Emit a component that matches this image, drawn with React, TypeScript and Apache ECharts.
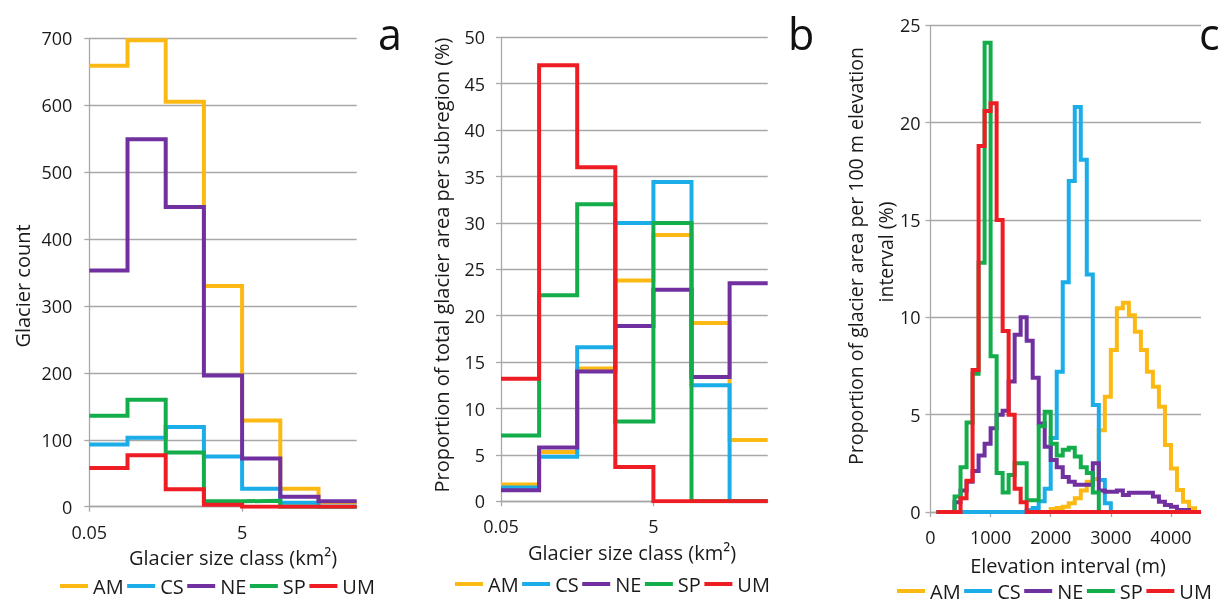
import React, { useEffect, useRef } from 'react';
import * as echarts from 'echarts';

// ---------- shared ----------
const regions = ['AM', 'CS', 'NE', 'SP', 'UM'];
const regionColors = ['#FDB913', '#1BADE8', '#7030A0', '#13AE4B', '#EE1D23'];

// ---------- panels a & b : glacier size classes (log-spaced class boundaries, by index) ----------
const sizeClassEdges = [0, 1, 2, 3, 4, 5, 6, 7];
const sizeTickPositions = [0, 4];
const sizeTickLabels = ['0.05', '5'];

// a: glacier count per size class
const countAM = [659, 697, 605, 330, 129, 27, 7];
const countCS = [93, 103, 119, 75, 27, 6, 0];
const countNE = [353, 549, 448, 196, 72, 15, 8];
const countSP = [136, 160, 81, 8, 9, 0, 0];
const countUM = [58, 77, 26, 3, 0, 0, 0];

// b: proportion of total glacier area per subregion (%)
const areaAM = [1.8, 5.3, 14.3, 23.8, 28.7, 19.2, 6.6];
const areaCS = [1.5, 4.8, 16.6, 30.0, 34.4, 12.5, 0];
const areaNE = [1.2, 5.8, 14.0, 18.9, 22.8, 13.4, 23.5];
const areaSP = [7.1, 22.2, 32.0, 8.6, 30.0, 0, 0];
const areaUM = [13.2, 47.0, 36.0, 3.7, 0, 0, 0];

// ---------- panel c : 100 m elevation intervals (bin start, m) ----------
const elevBinStart = [
  100, 200, 300, 400, 500, 600, 700, 800, 900, 1000,
  1100, 1200, 1300, 1400, 1500, 1600, 1700, 1800, 1900, 2000,
  2100, 2200, 2300, 2400, 2500, 2600, 2700, 2800, 2900, 3000,
  3100, 3200, 3300, 3400, 3500, 3600, 3700, 3800, 3900, 4000,
  4100, 4200, 4300, 4400,
];
const elevEnd = 4500;

const elevAM = [
  0, 0, 0, 0, 0, 0, 0, 0, 0, 0,
  0, 0, 0, 0, 0, 0, 0, 0, 0, 0.15,
  0.2, 0.27, 0.45, 0.7, 1.1, 1.55, 1.7, 4.2, 5.92, 8.32,
  10.46, 10.75, 10.1, 9.26, 8.32, 7.2, 6.44, 5.41, 3.44, 2.24,
  1.13, 0.53, 0.19, 0,
];
const elevCS = [
  0, 0, 0, 0, 0, 0, 0, 0, 0, 0,
  0, 0, 0, 0, 0, 0.1, 0.2, 0.55, 1.2, 3.8,
  7.2, 11.8, 17.0, 20.8, 18.1, 12.2, 5.5, 1.64, 0.45, 0,
  0, 0, 0, 0, 0, 0, 0, 0, 0, 0,
  0, 0, 0, 0,
];
const elevNE = [
  0, 0, 0, 0.5, 1.1, 1.55, 2.1, 2.9, 3.5, 4.3,
  5.0, 5.2, 6.7, 9.1, 10.0, 8.8, 6.9, 4.55, 3.35, 2.67,
  2.3, 1.8, 1.55, 1.4, 1.4, 1.4, 2.5, 1.1, 1.04, 1.04,
  1.1, 0.87, 0.99, 0.99, 0.99, 0.99, 0.79, 0.53, 0.36, 0.27,
  0.1, 0.1, 0, 0,
];
const elevSP = [
  0, 0, 0, 0.8, 2.3, 4.6, 7.1, 12.8, 24.1, 8.0,
  2.0, 1.0, 1.9, 2.5, 2.5, 0.6, 0.6, 4.4, 5.15, 3.5,
  2.9, 3.2, 3.3, 2.85, 2.3, 2.0, 1.0, 0, 0, 0,
  0, 0, 0, 0, 0, 0, 0, 0, 0, 0,
  0, 0, 0, 0,
];
const elevUM = [
  0, 0, 0, 0, 0.7, 1.6, 7.3, 18.8, 20.6, 21.0,
  15.0, 9.3, 5.0, 1.2, 0.5, 0, 0, 0, 0, 0,
  0, 0, 0, 0, 0, 0, 0, 0, 0, 0,
  0, 0, 0, 0, 0, 0, 0, 0, 0, 0,
  0, 0, 0, 0,
];

const countSeries = [countAM, countCS, countNE, countSP, countUM];
const areaSeries = [areaAM, areaCS, areaNE, areaSP, areaUM];
const elevSeries = [elevAM, elevCS, elevNE, elevSP, elevUM];

const FONT = '"Open Sans", Lato, sans-serif';
const GRID_COLOR = '#A8A8A8';
const TEXT_COLOR = '#1a1a1a';

function stepData(edges: number[], values: number[]) {
  const pts: number[][] = values.map((v, i) => [edges[i], v]);
  pts.push([edges[values.length], values[values.length - 1]]);
  return pts;
}

function sizeLabel(v: number) {
  const i = sizeTickPositions.indexOf(v);
  return i >= 0 ? sizeTickLabels[i] : '';
}

function yAxisCfg(gridIndex: number, max: number, interval: number, margin: number) {
  return {
    gridIndex,
    type: 'value',
    min: 0,
    max,
    interval,
    axisLine: { show: true, lineStyle: { color: GRID_COLOR, width: 1.3 } },
    axisTick: { show: true, length: 5, lineStyle: { color: GRID_COLOR, width: 1.3 } },
    axisLabel: { fontSize: 18, fontFamily: FONT, color: TEXT_COLOR, margin },
    splitLine: { show: true, lineStyle: { color: GRID_COLOR, width: 1.3 } },
  };
}

function xAxisCfg(gridIndex: number, min: number, max: number, interval: number, formatter: any) {
  return {
    gridIndex,
    type: 'value',
    min,
    max,
    interval,
    axisLine: { show: true, onZero: false, lineStyle: { color: GRID_COLOR, width: 1.3 } },
    axisTick: { show: true, length: 5, lineStyle: { color: GRID_COLOR, width: 1.3 } },
    axisLabel: { fontSize: 18, fontFamily: FONT, color: TEXT_COLOR, margin: 16, formatter, showMaxLabel: false },
    splitLine: { show: false },
  };
}

function legendCfg(left: number, top: number) {
  return {
    data: regions,
    left,
    top,
    orient: 'horizontal',
    icon: 'rect',
    itemWidth: 28,
    itemHeight: 4,
    itemGap: 3.5,
    padding: 0,
    selectedMode: false,
    textStyle: { fontSize: 20, fontFamily: FONT, color: TEXT_COLOR },
  };
}

function hText(text: string, x: number, y: number, size = 20) {
  return {
    type: 'text',
    x,
    y,
    style: { text, fill: TEXT_COLOR, font: `${size}px ${FONT}`, textAlign: 'center', textVerticalAlign: 'middle', align: 'center', verticalAlign: 'middle' },
  };
}

function vText(text: string, x: number, y: number, size = 20) {
  return {
    type: 'text',
    x,
    y,
    rotation: Math.PI / 2,
    style: { text, fill: TEXT_COLOR, font: `${size}px ${FONT}`, textAlign: 'center', textVerticalAlign: 'middle', align: 'center', verticalAlign: 'middle' },
  };
}

function letter(text: string, x: number, y: number) {
  return {
    type: 'text',
    x,
    y,
    style: { text, fill: '#111', font: `43px ${FONT}`, textAlign: 'left', textVerticalAlign: 'middle', align: 'left', verticalAlign: 'middle' },
  };
}

export default function App() {
  const ref = useRef<HTMLDivElement>(null);

  useEffect(() => {
    if (!ref.current) return;
    const chart = echarts.init(ref.current, undefined, { renderer: 'svg' });

    const series: any[] = [];
    const panels = [
      { data: countSeries, edges: sizeClassEdges, idx: 0 },
      { data: areaSeries, edges: sizeClassEdges, idx: 1 },
      { data: elevSeries, edges: [...elevBinStart, elevEnd], idx: 2 },
    ];
    panels.forEach((p) => {
      p.data.forEach((vals, k) => {
        series.push({
          name: regions[k],
          type: 'line',
          step: 'end',
          xAxisIndex: p.idx,
          yAxisIndex: p.idx,
          data: stepData(p.edges, vals),
          showSymbol: false,
          symbol: 'none',
          lineStyle: { width: 4, color: regionColors[k], join: 'miter', cap: 'butt' },
          itemStyle: { color: regionColors[k] },
          emphasis: { disabled: true },
          silent: true,
        });
      });
    });

    chart.setOption({
      animation: false,
      textStyle: { fontFamily: FONT },
      grid: [
        { left: 89.3, top: 38.3, width: 267.4, height: 468.4 },
        { left: 501, top: 37.3, width: 266.7, height: 464 },
        { left: 930.5, top: 25.3, width: 270.5, height: 486.7 },
      ],
      xAxis: [
        xAxisCfg(0, 0, 7, 4, sizeLabel),
        xAxisCfg(1, 0, 7, 4, sizeLabel),
        xAxisCfg(2, 0, 4500, 1000, (v: number) => String(v)),
      ],
      yAxis: [
        yAxisCfg(0, 700, 100, 17),
        yAxisCfg(1, 50, 5, 16),
        yAxisCfg(2, 25, 5, 10),
      ],
      legend: [legendCfg(60, 576), legendCfg(455, 574), legendCfg(897, 581)],
      graphic: [
        vText('Glacier count', 22, 286),
        hText('Glacier size class (km²)', 233, 557),
        vText('Proportion of total glacier area per subregion (%)', 441, 265),
        hText('Glacier size class (km²)', 632, 552),
        vText('Proportion of glacier area per 100 m elevation', 855, 256, 19.5),
        vText('interval (%)', 885, 252, 19.5),
        hText('Elevation interval (m)', 1068, 565),
        letter('a', 378, 33),
        letter('b', 788, 33),
        letter('c', 1199, 33),
      ],
      series,
    });

    return () => chart.dispose();
  }, []);

  return <div ref={ref} style={{ position: 'fixed', left: 0, top: 0, width: 1224, height: 605 }} />;
}
